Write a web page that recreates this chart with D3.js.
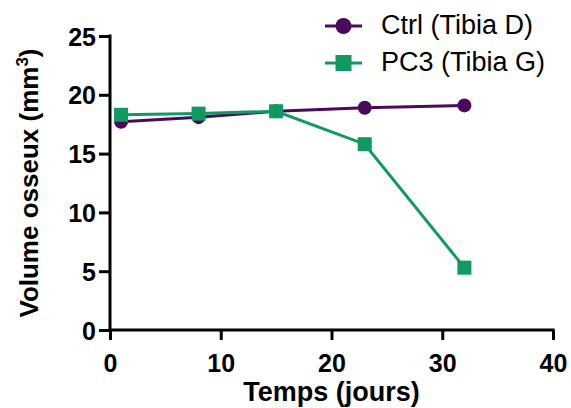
<!DOCTYPE html>
<html lang="fr">
<head>
  <meta charset="UTF-8">
  <title>Volume osseux</title>
  <script src="https://d3js.org/d3.v7.min.js"></script>
  <style>
    body { margin: 0; background: #fff; }
    svg { display: block; font-family: "Liberation Sans", Arial, sans-serif; }
  </style>
</head>
<body>
  <svg id="chart"></svg>

  <script>
    // Data
    const days = [1, 8, 15, 23, 32];
    const ctrlValues = [17.7, 18.1, 18.6, 18.9, 19.1];
    const pc3Values = [18.3, 18.4, 18.6, 15.8, 5.3];
    const seriesNames = ["Ctrl (Tibia D)", "PC3 (Tibia G)"];
    const xTicks = [0, 10, 20, 30, 40];
    const yTicks = [0, 5, 10, 15, 20, 25];

    const width = 571, height = 408;
    const margin = { top: 36, right: 18, bottom: 78, left: 110 };

    const purple = "#4a0a5c";
    const green = "#109a62";

    const svg = d3.select("#chart")
      .attr("width", width)
      .attr("height", height);

    const x = d3.scaleLinear().domain([0, 40]).range([margin.left, width - margin.right]);
    const y = d3.scaleLinear().domain([0, 25]).range([height - margin.bottom, margin.top]);

    // axes
    const xAxis = svg.append("g")
      .attr("transform", `translate(0,${y(0)})`)
      .call(d3.axisBottom(x).tickValues(xTicks).tickSize(10).tickSizeOuter(0));
    const yAxis = svg.append("g")
      .attr("transform", `translate(${x(0)},0)`)
      .call(d3.axisLeft(y).tickValues(yTicks).tickSize(11).tickSizeOuter(0));

    [xAxis, yAxis].forEach(g => {
      g.select(".domain").attr("stroke", "#000").attr("stroke-width", 3);
      g.selectAll(".tick line").attr("stroke", "#000").attr("stroke-width", 3);
      g.selectAll(".tick text")
        .attr("fill", "#000")
        .style("font-size", "25px")
        .style("font-weight", "bold");
    });
    xAxis.selectAll(".tick text").attr("y", 24).attr("dy", "0.72em");
    yAxis.selectAll(".tick text").attr("x", -14).attr("dy", "0.36em");
    // extend domain lines to meet at the corner
    xAxis.select(".domain").attr("d", `M${x(0) - 1.5},0H${x(40) + 1.5}`);
    yAxis.select(".domain").attr("d", `M0,${y(0) + 1.5}V${y(25) - 1.5}`);

    // axis titles
    svg.append("text")
      .attr("x", (x(0) + x(40)) / 2)
      .attr("y", 401)
      .attr("text-anchor", "middle")
      .style("font-size", "27px")
      .style("font-weight", "bold")
      .text("Temps (jours)");

    const yTitle = svg.append("text")
      .attr("transform", `translate(38,${(y(0) + y(25)) / 2}) rotate(-90)`)
      .attr("text-anchor", "middle")
      .style("font-size", "26px")
      .style("font-weight", "bold");
    yTitle.append("tspan").text("Volume osseux (mm");
    yTitle.append("tspan").attr("dy", -10).style("font-size", "17px").text("3");
    yTitle.append("tspan").attr("dy", 10).text(")");

    const line = d3.line().x(d => x(d[0])).y(d => y(d[1]));

    const ctrl = days.map((d, i) => [d, ctrlValues[i]]);
    const pc3 = days.map((d, i) => [d, pc3Values[i]]);

    // Ctrl
    svg.append("path")
      .datum(ctrl)
      .attr("fill", "none")
      .attr("stroke", purple)
      .attr("stroke-width", 3)
      .attr("d", line);
    svg.append("g").selectAll("circle")
      .data(ctrl)
      .enter().append("circle")
      .attr("cx", d => x(d[0]))
      .attr("cy", d => y(d[1]))
      .attr("r", 7)
      .attr("fill", purple);

    // PC3
    svg.append("path")
      .datum(pc3)
      .attr("fill", "none")
      .attr("stroke", green)
      .attr("stroke-width", 3)
      .attr("d", line);
    svg.append("g").selectAll("rect")
      .data(pc3)
      .enter().append("rect")
      .attr("x", d => x(d[0]) - 7)
      .attr("y", d => y(d[1]) - 7)
      .attr("width", 14)
      .attr("height", 14)
      .attr("fill", green);

    // legend
    const legend = svg.append("g").attr("transform", "translate(325,26)");
    const colors = [purple, green];
    seriesNames.forEach((name, i) => {
      const row = legend.append("g").attr("transform", `translate(0,${i * 37})`);
      row.append("line")
        .attr("x1", 0).attr("x2", 37)
        .attr("stroke", colors[i])
        .attr("stroke-width", 3);
      if (i === 0) {
        row.append("circle").attr("cx", 18.5).attr("r", 8).attr("fill", colors[i]);
      } else {
        row.append("rect").attr("x", 10.5).attr("y", -8).attr("width", 16).attr("height", 16).attr("fill", colors[i]);
      }
      row.append("text")
        .attr("x", 56)
        .attr("y", 8)
        .style("font-size", "27px")
        .attr("fill", "#000")
        .text(name);
    });
  </script>
</body>
</html>
